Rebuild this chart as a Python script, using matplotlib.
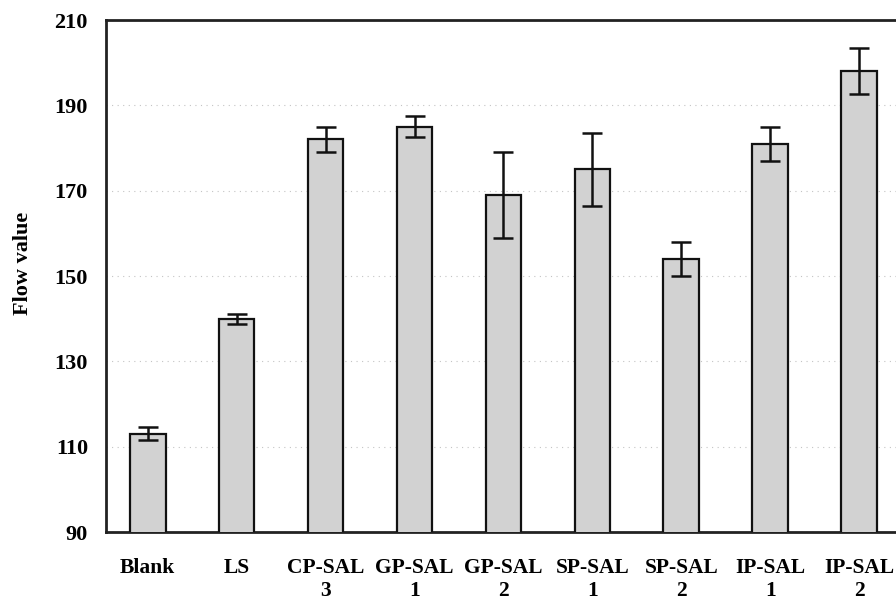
import numpy as np
import matplotlib
matplotlib.use('Agg')
import matplotlib.pyplot as plt

categories = ['Blank', 'LS', 'CP-SAL\n3', 'GP-SAL\n1', 'GP-SAL\n2',
              'SP-SAL\n1', 'SP-SAL\n2', 'IP-SAL\n1', 'IP-SAL\n2']
flow = [113, 140, 182, 185, 169, 175, 154, 181, 198]
err = [1.5, 1.2, 3.0, 2.5, 10.0, 8.5, 4.0, 4.0, 5.4]
yticks = [90, 110, 130, 150, 170, 190, 210]

plt.rcParams['font.family'] = ['Liberation Serif', 'DejaVu Serif']
plt.rcParams['font.weight'] = 'bold'

fig = plt.figure(figsize=(8.96, 6.02), dpi=100)
# axes runs past the right edge, as in the original scan
ax = fig.add_axes([106/896, 70/602, 794/896, 512/602])

x = np.arange(len(categories))
ax.bar(x, flow, width=0.4, color='#d2d2d2', edgecolor='#111111', linewidth=1.6,
       zorder=3)
ax.errorbar(x, flow, yerr=err, fmt='none', ecolor='#111111', elinewidth=1.8,
            capsize=7, capthick=1.8, zorder=4)

ax.set_ylim(90, 210)
ax.set_xlim(-0.47, len(categories) - 1 + 0.46)
ax.set_yticks(yticks)
ax.set_xticks(x)
ax.set_xticklabels(categories, fontsize=15.5, fontweight='bold', linespacing=1.2,
                   va='top')
ax.tick_params(axis='y', labelsize=16, length=0, pad=13)
ax.tick_params(axis='x', length=0, pad=19)
for lbl in ax.get_yticklabels():
    lbl.set_fontweight('bold')

ax.yaxis.grid(True, linestyle=(0, (1, 4)), color='#c4c4c4', linewidth=0.8, zorder=0)
for side in ['left', 'top', 'bottom']:
    ax.spines[side].set_linewidth(2)
    ax.spines[side].set_color('#222222')
ax.spines['right'].set_visible(False)

ax.set_ylabel('Flow value', fontsize=16, fontweight='bold')
ax.yaxis.set_label_coords(-0.092, 0.525)

fig.savefig('out.png', dpi=100)
